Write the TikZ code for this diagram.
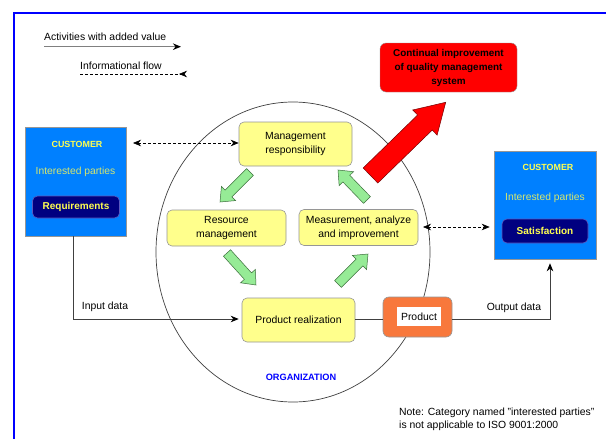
\documentclass[tikz,border=0pt]{standalone}
\usepackage{fontspec}
\setmainfont{Liberation Sans}
\usetikzlibrary{arrows.meta,calc,shapes.geometric}
\definecolor{boxyellow}{RGB}{255,255,140}
\definecolor{custblue}{RGB}{0,128,255}
\definecolor{navyb}{RGB}{0,0,128}
\definecolor{ipyellow}{RGB}{214,230,110}
\definecolor{txtyellow}{RGB}{255,255,80}
\definecolor{orangeb}{RGB}{248,120,60}
\definecolor{grfill}{RGB}{150,235,150}
\definecolor{grline}{RGB}{60,110,60}
\definecolor{edgegray}{RGB}{150,150,150}
\newcommand\ftsm{\fontsize{10.4}{14}\selectfont}
\newcommand\ftbd{\fontsize{9.9}{14}\selectfont\bfseries}
% block arrow: from, to, half shaft, half head, head length, style
\newcommand\blkarrow[6]{%
  \coordinate (bkh) at ($(#2)!#5pt!(#1)$);
  \filldraw[#6] ($(#1)!#3pt!90:(#2)$) -- ($(bkh)!#3pt!90:(#2)$) -- ($(bkh)!#4pt!90:(#2)$) -- (#2)
    -- ($(bkh)!#4pt!-90:(#2)$) -- ($(bkh)!#3pt!-90:(#2)$) -- ($(#1)!#3pt!-90:(#2)$) -- cycle;
}
\begin{document}
\begin{tikzpicture}[x=1pt,y=-1pt,
  smalltext/.style={font=\ftsm, inner sep=0pt, text=black},
  ybox/.style={draw=edgegray, fill=boxyellow, rounded corners=5pt, line width=0.6pt,
    inner sep=0pt, align=center, font=\ftsm},
  custbox/.style={draw=edgegray, fill=custblue, line width=0.6pt, inner sep=0pt},
  navybox/.style={draw=edgegray!60!blue, fill=navyb, rounded corners=5pt, line width=0.6pt,
    inner sep=0pt, font=\fontsize{10}{12}\selectfont\bfseries, text=txtyellow},
  tipA/.tip={Stealth[length=8pt,width=6.5pt,inset=2.5pt]},
  valueline/.style={draw=black!50, line width=1.2pt, -{tipA[black]}},
  flowline/.style={draw=black!75, line width=0.7pt, -{tipA[black]}},
  plainline/.style={draw=black!75, line width=0.7pt},
  infoline/.style={draw=black, line width=0.6pt, dash pattern=on 3pt off 2pt},
  greenarrow/.style={fill=grfill, draw=grline, line width=0.5pt},
  redarrow/.style={fill=red, draw=red!45!black, line width=0.5pt}]
\useasboundingbox (0,0) rectangle (606,439);
\fill[white] (0,0) rectangle (606,439);
% frame
\draw[blue, line width=2.2pt] (14,440) -- (14,13) -- (607,13);
% legend
\node[smalltext, anchor=west] (legA) at (44,37) {Activities with added value};
\coordinate (legAs) at (44,46.7);
\coordinate (legAe) at (181,46.7);
\draw[valueline] (legAs) -- (legAe);
\node[smalltext, anchor=west] (legI) at (80,66) {Informational flow};
\coordinate (legIs) at (80,74);
\coordinate (legIe) at (180,74);
\draw[infoline, -{tipA[black]}, solid] (legIe) -- ++(-1,0);
\draw[infoline] (legIs) -- (legIe);
% organization ellipse
\node[ellipse, draw=black!75, line width=0.7pt, minimum width=274pt, minimum height=300pt,
  inner sep=0pt] (org) at (293,252) {};
\node[font=\fontsize{9.2}{10}\selectfont\bfseries, text=blue, inner sep=0pt] (orgl) at (301,377) {ORGANIZATION};
% red box and arrow
\node[draw=edgegray, fill=red, rounded corners=6pt, minimum width=137pt, minimum height=49pt,
  inner sep=0pt, align=center, font=\ftbd, text=black] (cont) at (448.5,67.5)
  {Continual improvement\\of quality management\\system};
\coordinate (rtail) at (370.5,175.5);
\coordinate (rtip) at (445.7,102.3);
\blkarrow{rtail}{rtip}{10.5}{17.5}{29}{redarrow}
% customers
\node[custbox, minimum width=101pt, minimum height=109pt] (custL) at (75.5,181.5) {};
\node[font=\fontsize{8.9}{10}\selectfont\bfseries, text=txtyellow, inner sep=0pt] (custLt) at (77,144) {CUSTOMER};
\node[font=\fontsize{10.3}{12}\selectfont, text=ipyellow, inner sep=0pt] (custLi) at (75.5,171.7) {Interested parties};
\node[navybox, minimum width=87pt, minimum height=22pt] (req) at (76,207) {Requirements};
\node[custbox, minimum width=102pt, minimum height=108pt] (custR) at (545,205) {};
\node[font=\fontsize{8.9}{10}\selectfont\bfseries, text=txtyellow, inner sep=0pt] (custRt) at (548,167) {CUSTOMER};
\node[font=\fontsize{10.3}{12}\selectfont, text=ipyellow, inner sep=0pt] (custRi) at (545,198) {Interested parties};
\node[navybox, minimum width=86pt, minimum height=24pt] (sat) at (545,231) {Satisfaction};
% process boxes
\node[ybox, minimum width=113pt, minimum height=44pt] (mgmt) at (295.5,144) {Management\\responsibility};
\node[ybox, minimum width=119pt, minimum height=36pt] (res) at (226.5,228) {Resource\\management};
\node[ybox, minimum width=119pt, minimum height=36pt] (meas) at (358.5,227.5) {Measurement, analyze\\and improvement};
\node[ybox, minimum width=113pt, minimum height=44pt] (prodreal) at (298.5,320) {Product realization};
\node[draw=edgegray, fill=orangeb, rounded corners=6pt, minimum width=69pt, minimum height=40pt,
  line width=0.6pt, inner sep=0pt] (product) at (417.5,317) {};
\node[fill=white, minimum width=44pt, minimum height=19pt, inner sep=0pt, font=\ftsm] (prodt) at (419,316.5) {Product};
% green cycle arrows
\coordinate (g1a) at (250,172); \coordinate (g1b) at (220,202);
\coordinate (g2a) at (227,253); \coordinate (g2b) at (256,285);
\coordinate (g3a) at (338,284); \coordinate (g3b) at (368,254);
\coordinate (g4a) at (367,200); \coordinate (g4b) at (338,170);
\blkarrow{g1a}{g1b}{4.8}{10}{12}{greenarrow}
\blkarrow{g2a}{g2b}{4.8}{10}{12}{greenarrow}
\blkarrow{g3a}{g3b}{4.8}{10}{12}{greenarrow}
\blkarrow{g4a}{g4b}{4.8}{10}{12}{greenarrow}
% informational flows
\coordinate (dA) at (133,143);
\draw[infoline, {tipA[black]}-{tipA[black]}] (dA) -- (dA -| mgmt.west);
\coordinate (dB) at (423,227);
\draw[infoline, {tipA[black]}-{tipA[black]}, shorten >=4pt] (dB) -- (dB -| custR.west);
% value flows
\draw[flowline] ($(custL.south)+(-2.5,0)$) |- ($(prodreal.west)+(-3,-1)$);
\draw[plainline] ($(prodreal.east)+(0,-1)$) -- ($(prodreal.east -| product.west)+(0,-1)$);
\draw[flowline] ($(product.east)+(0,2)$) -| ($(custR.south)+(5,4)$);
\node[smalltext] (inl) at (105,307) {Input data};
\node[smalltext] (outl) at (514,308) {Output data};
% note
\node[smalltext, align=left, anchor=west, font=\fontsize{10.4}{13}\selectfont] (note) at (399,419.5)
  {Note: Category named "interested parties"\\is not applicable to ISO 9001:2000};
\end{tikzpicture}
\end{document}
